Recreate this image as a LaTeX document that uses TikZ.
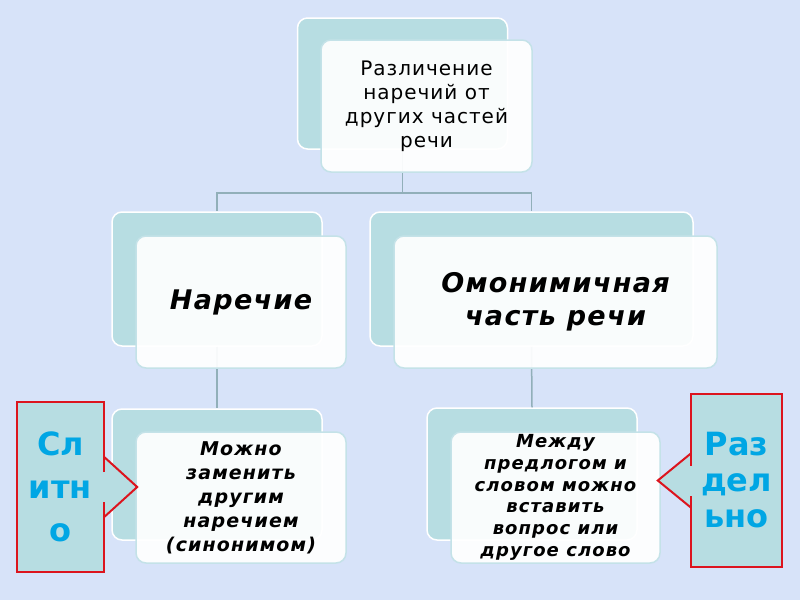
\documentclass[tikz,border=0pt]{standalone}
\usepackage{fontspec}
\setmainfont{DejaVu Sans}[BoldFont={DejaVu Sans Bold},ItalicFont={DejaVu Sans Oblique},BoldItalicFont={DejaVu Sans Bold Oblique}]
\newfontfamily\spaced{DejaVu Sans}[LetterSpace=5]
\newfontfamily\spacedbo{DejaVu Sans Bold Oblique}[LetterSpace=6]
\newfontfamily\boldbo{DejaVu Sans Bold Oblique}[LetterSpace=5]
\definecolor{bg}{RGB}{215,227,249}
\definecolor{teal}{RGB}{183,221,226}
\definecolor{fborder}{RGB}{196,226,232}
\definecolor{conn}{RGB}{145,175,185}
\definecolor{redb}{RGB}{220,20,30}
\definecolor{cyantxt}{RGB}{0,166,228}
\tikzset{
  backbox/.style={rectangle,rounded corners=10pt,fill=teal,draw=white,line width=1.5pt,inner sep=0pt},
  frontbox/.style={rectangle,rounded corners=10pt,fill=white,fill opacity=0.93,text opacity=1,draw=fborder,line width=1.5pt,inner sep=0pt,align=center,text=black},
  connector/.style={draw=conn,line width=1.5pt},
  calloutbox/.style={rectangle,fill=teal,inner sep=0pt,align=center,text=cyantxt},
  redline/.style={draw=redb,line width=2pt}
}
\begin{document}
\begin{tikzpicture}[x=1pt,y=-1pt]
\fill[bg] (0,0) rectangle (800,600);
\useasboundingbox (0,0) rectangle (800,600);
% back boxes
\node[backbox,minimum width=210pt,minimum height=131pt] (topB) at (402.5,83.5) {};
\node[backbox,minimum width=210pt,minimum height=134pt] (midLB) at (217,279) {};
\node[backbox,minimum width=323pt,minimum height=134pt] (midRB) at (531.5,279) {};
\node[backbox,minimum width=210pt,minimum height=131pt] (botLB) at (217,474.5) {};
\node[backbox,minimum width=210pt,minimum height=132pt] (botRB) at (532,474) {};
% connectors
\coordinate (split) at ([yshift=-43pt]topB.south);
\draw[connector] (topB.south) -- (split);
\draw[connector] (split) -| (midLB.north);
\draw[connector] (split) -| (midRB.north);
\draw[connector] (midLB.south) -- (botLB.north);
\draw[connector] (midRB.south) -- (botRB.north);
% front boxes
\node[frontbox,minimum width=211pt,minimum height=132pt,font=\spaced\fontsize{20}{24}\selectfont] (topF) at (426.5,106)
  {Различение\\наречий от\\других частей\\речи};
\node[frontbox,minimum width=210pt,minimum height=132pt,font=\boldbo\fontsize{27}{33}\selectfont] (midLF) at (241,302)
  {Наречие};
\node[frontbox,minimum width=323pt,minimum height=132pt,font=\boldbo\fontsize{27}{33}\selectfont] (midRF) at (555.5,302)
  {Омонимичная\\часть речи};
\node[frontbox,minimum width=210pt,minimum height=131pt,font=\spacedbo\fontsize{19}{24}\selectfont] (botLF) at (241,497.5)
  {Можно\\заменить\\другим\\наречием\\(синонимом)};
\node[frontbox,minimum width=209pt,minimum height=131pt,font=\spacedbo\fontsize{18}{21.7}\selectfont] (botRF) at (555.5,497.5)
  {Между\\предлогом и\\словом можно\\вставить\\вопрос или\\другое слово};
% left callout
\node[calloutbox,minimum width=87pt,minimum height=170pt,font=\bfseries\fontsize{32}{43}\selectfont] (slit) at (60.5,487)
  {Сл\\итн\\о};
\fill[teal] ([yshift=30pt]slit.east) -- ++(33,30) -- ([yshift=-30pt]slit.east) -- cycle;
\draw[redline] ([yshift=15pt]slit.east) -- (slit.north east) -- (slit.north west)
  -- (slit.south west) -- (slit.south east) -- ([yshift=-15pt]slit.east);
\draw[redline,line join=miter] ([yshift=30pt]slit.east) -- ++(33,30) -- ([yshift=-30pt]slit.east);
% right callout
\node[calloutbox,minimum width=91pt,minimum height=173pt,font=\bfseries\fontsize{32}{36}\selectfont] (razd) at (736.5,480.5)
  {Раз\\дел\\ьно};
\fill[teal] ([yshift=27pt]razd.west) -- ++(-33,27) -- ([yshift=-27pt]razd.west) -- cycle;
\draw[redline] ([yshift=15pt]razd.west) -- (razd.north west) -- (razd.north east)
  -- (razd.south east) -- (razd.south west) -- ([yshift=-15pt]razd.west);
\draw[redline,line join=miter] ([yshift=27pt]razd.west) -- ++(-33,27) -- ([yshift=-27pt]razd.west);
\end{tikzpicture}
\end{document}
